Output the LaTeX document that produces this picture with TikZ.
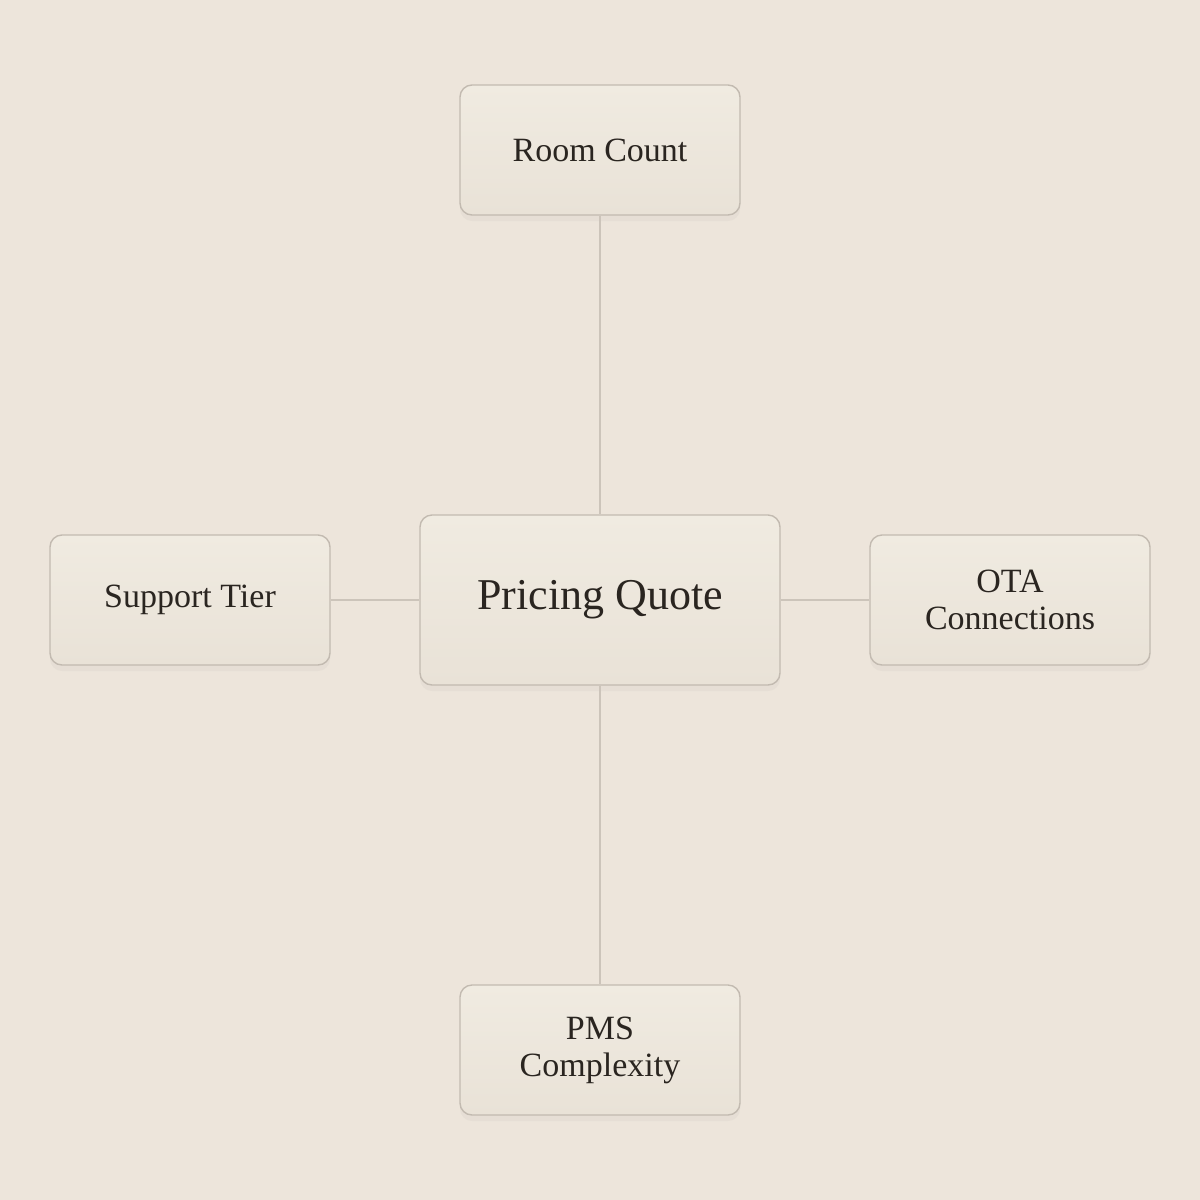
\documentclass[tikz,border=0pt]{standalone}
\usepackage{fontspec}
\setmainfont{Liberation Serif}
\usetikzlibrary{shadows}
\definecolor{bg}{HTML}{EDE5DB}
\definecolor{boxfilltop}{HTML}{F0EBE1}
\definecolor{boxfillbot}{HTML}{E9E2D7}
\definecolor{boxline}{HTML}{C2BAB0}
\definecolor{conn}{HTML}{CCC4BA}
\definecolor{txt}{HTML}{2A2520}
\tikzset{
  box/.style={draw=boxline, line width=0.7pt, rounded corners=6pt,
    top color=boxfilltop, bottom color=boxfillbot, text=txt, align=center,
    inner sep=0pt, font=\fontsize{17}{18.5}\selectfont,
    drop shadow={shadow xshift=0pt, shadow yshift=-3pt, opacity=0.05, fill=black!60}},
  smallbox/.style={box, minimum width=140pt, minimum height=65pt},
  bigbox/.style={box, minimum width=180pt, minimum height=85pt, font=\fontsize{22}{24}\selectfont},
  link/.style={draw=conn, line width=0.6pt}
}
\begin{document}
\begin{tikzpicture}[x=0.5pt,y=-0.5pt]
\fill[bg] (0,0) rectangle (1200,1200);
\useasboundingbox (0,0) rectangle (1200,1200);
\node[bigbox] (pq) at (600,600) {\raisebox{-2pt}{Pricing Quote}};
\node[smallbox] (rc) at (600,150) {Room Count};
\node[smallbox] (st) at (190,600) {Support Tier};
\node[smallbox] (ota) at (1010,600) {OTA\\Connections};
\node[smallbox] (pms) at (600,1050) {PMS\\Complexity};
\draw[link] (rc.south) -- (pq.north);
\draw[link] (pq.south) -- (pms.north);
\draw[link] (st.east) -- (pq.west);
\draw[link] (pq.east) -- (ota.west);
\end{tikzpicture}
\end{document}
